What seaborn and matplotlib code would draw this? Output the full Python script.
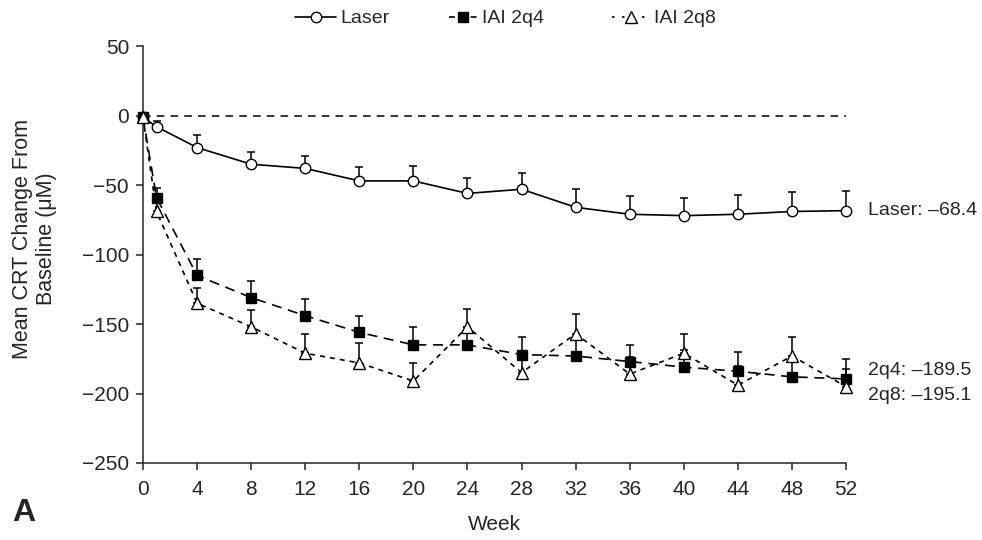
import numpy as np
import pandas as pd
import seaborn as sns
import matplotlib.pyplot as plt

sns.set_style("ticks")
plt.rcParams['font.family'] = ['Liberation Sans', 'DejaVu Sans']

# Data
weeks = [0, 1, 4, 8, 12, 16, 20, 24, 28, 32, 36, 40, 44, 48, 52]
laser = [-1, -8, -23, -35, -38, -47, -47, -56, -53, -66, -71, -72, -71, -69, -68.4]
iai_2q4 = [-1, -59, -115, -131, -144, -156, -165, -165, -172, -173, -177, -181, -184, -188, -189.5]
iai_2q8 = [-1, -69, -135, -152, -171, -178, -191, -152, -185, -157, -186, -171, -194, -173, -195.1]
laser_err = [3, 4, 9, 9, 9, 10, 11, 11, 12, 13, 13, 13, 14, 14, 14]
iai_2q4_err = [3, 7, 12, 12, 12, 12, 13, 13, 13, 13, 12, 12, 14, 12, 14]
iai_2q8_err = [3, 6, 11, 12, 14, 14, 13, 13, 14, 14, 12, 14, 14, 14, 13]

# name, values, errors, marker, size, line dashes, legend dashes, legend x, handle length
series = [
    ("Laser", laser, laser_err, "o", 7.5, None, None, 0.287, 2.1),
    ("IAI 2q4", iai_2q4, iai_2q4_err, "s", 6.5, (6, 4), (3.5, 3), 0.443, 1.5),
    ("IAI 2q8", iai_2q8, iai_2q8_err, "^", 9, (3, 3), (1.5, 4.5), 0.609, 2.0),
]

fig = plt.figure(figsize=(9.82, 5.4), dpi=100)
ax = fig.add_axes([0.1456, 0.1426, 0.716, 0.772])

ax.axhline(0, color="black", lw=1.1, ls=(0, (5, 4)), zorder=1)

for name, vals, err, mk, ms, dash, ldash, lx, hl in series:
    df = pd.DataFrame({"week": weeks, "value": vals})
    face = "black" if mk == "s" else "white"
    eb = ax.errorbar(weeks, vals, yerr=[np.zeros(len(err)), err], fmt="none",
                     ecolor="black", elinewidth=1.1, capsize=3, capthick=1.1, zorder=2)
    for art in eb.get_children():
        art.set_clip_on(False)
    kw = {} if dash is None else {"dashes": dash}
    n_before = len(ax.lines)
    sns.lineplot(data=df, x="week", y="value", ax=ax, color="black", lw=1.2,
                 marker=mk, markersize=ms, markerfacecolor=face,
                 markeredgecolor="black", markeredgewidth=1.0, zorder=3, **kw)
    for ln in ax.lines[n_before:]:
        ln.set_clip_on(False)
    h, = ax.plot([], [], color="black", lw=1.2, marker=mk, markersize=ms,
                 markerfacecolor=face, markeredgecolor="black",
                 ls="-" if ldash is None else (0, ldash))
    fig.legend([h], [name], loc="upper left", bbox_to_anchor=(lx, 1.007),
               frameon=False, fontsize=14, handlelength=hl, handletextpad=0.2,
               borderaxespad=0.3)

ax.set_xlim(0, 52)
ax.set_ylim(-250, 50)
ax.set_xticks(range(0, 53, 4))
ax.set_yticks(range(-250, 51, 50))
sns.despine(ax=ax)
for sp in ax.spines.values():
    sp.set_linewidth(1.1)
ax.tick_params(labelsize=15, length=5, width=1.1, direction="out")
ax.tick_params(axis="x", pad=7)
ax.tick_params(axis="y", pad=5)
ax.set_xlabel("Week", fontsize=15, labelpad=12)
ax.set_ylabel("Mean CRT Change From\nBaseline (\u03bcM)", fontsize=15.5)
ax.yaxis.set_label_coords(-0.122, 0.537)

# end labels
ax.text(53.6, laser[-1], "Laser: \u2013%.1f" % abs(laser[-1]), fontsize=14, va="center", clip_on=False)
ax.text(53.6, iai_2q4[-1] + 6, "2q4: \u2013%.1f" % abs(iai_2q4[-1]), fontsize=14, va="center", clip_on=False)
ax.text(53.6, iai_2q8[-1] - 6, "2q8: \u2013%.1f" % abs(iai_2q8[-1]), fontsize=14, va="center", clip_on=False)

fig.text(0.012, 0.035, "A", fontsize=23, fontweight="bold")

fig.savefig("out.png", dpi=100)
